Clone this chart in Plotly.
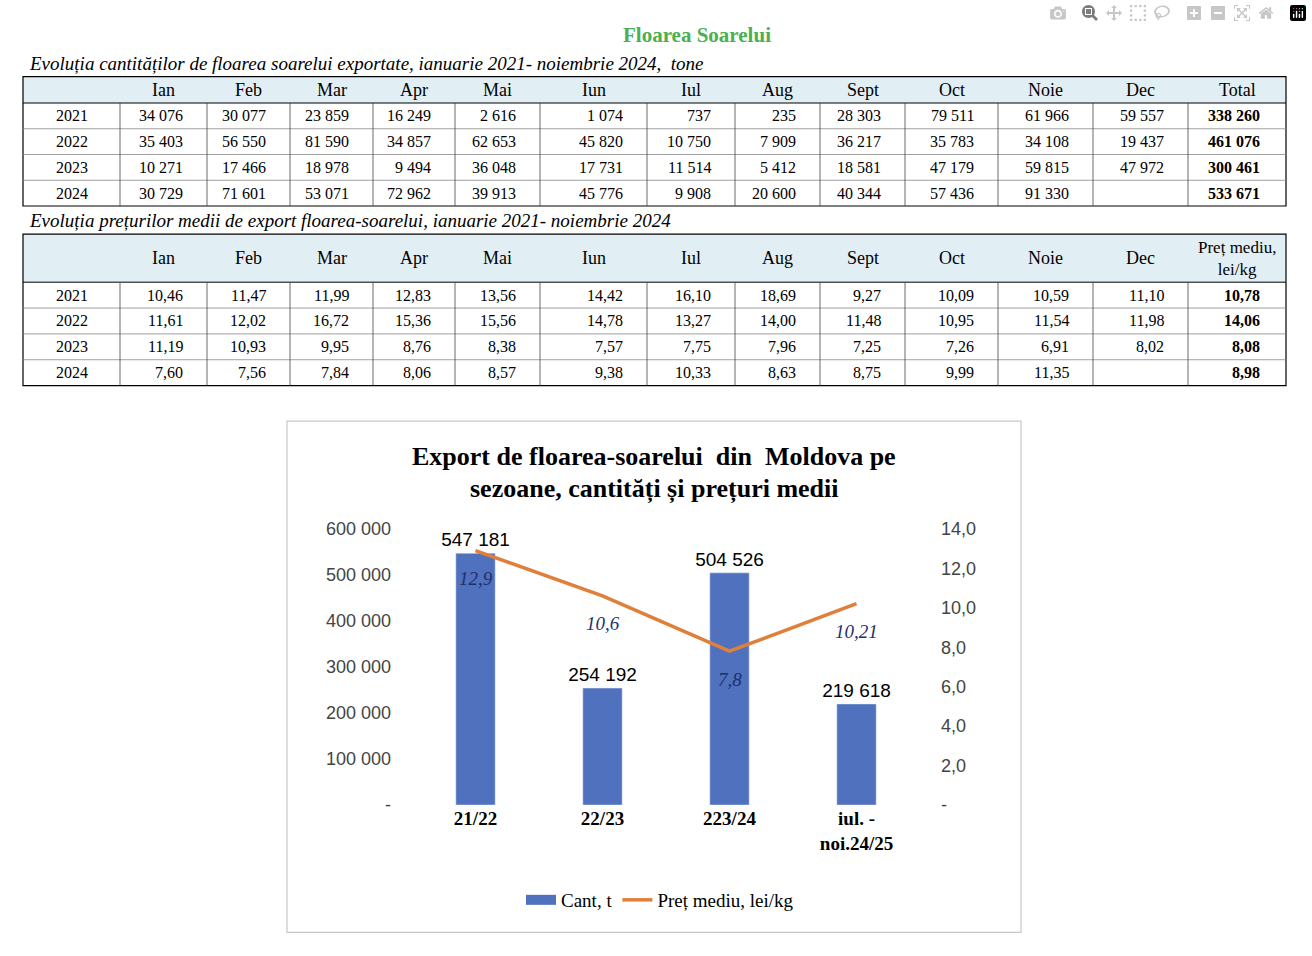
import plotly.graph_objects as go

W, H = 1312, 956
months = ["Ian","Feb","Mar","Apr","Mai","Iun","Iul","Aug","Sept","Oct","Noie","Dec"]
years = ["2021","2022","2023","2024"]
qty = [
    [34076,30077,23859,16249,2616,1074,737,235,28303,79511,61966,59557],
    [35403,56550,81590,34857,62653,45820,10750,7909,36217,35783,34108,19437],
    [10271,17466,18978,9494,36048,17731,11514,5412,18581,47179,59815,47972],
    [30729,71601,53071,72962,39913,45776,9908,20600,40344,57436,91330,None],
]
qty_total = [338260,461076,300461,533671]
price = [
    [10.46,11.47,11.99,12.83,13.56,14.42,16.10,18.69,9.27,10.09,10.59,11.10],
    [11.61,12.02,16.72,15.36,15.56,14.78,13.27,14.00,11.48,10.95,11.54,11.98],
    [11.19,10.93,9.95,8.76,8.38,7.57,7.75,7.96,7.25,7.26,6.91,8.02],
    [7.60,7.56,7.84,8.06,8.57,9.38,10.33,8.63,8.75,9.99,11.35,None],
]
price_avg = [10.78,14.06,8.08,8.98]
seasons = ["21/22","22/23","223/24","iul. -<br>noi.24/25"]
season_qty = [547181,254192,504526,219618]
season_price = [12.9,10.6,7.8,10.21]
season_price_lbl = ["12,9","10,6","7,8","10,21"]

SERIF = "Liberation Serif"
SANS = "Liberation Sans"

def X(px): return px / W
def Y(py): return 1 - py / H

def fq(v): return "" if v is None else f"{v:,}".replace(",", " ")
def fp(v): return "" if v is None else f"{v:.2f}".replace(".", ",")

ann, shp = [], []
def txt(x, y, s, size=17, xa="center", bold=False, italic=False, color="black", family=SERIF):
    if bold: s = f"<b>{s}</b>"
    if italic: s = f"<i>{s}</i>"
    ann.append(dict(x=X(x), y=Y(y), xref="paper", yref="paper", text=s, showarrow=False,
                    xanchor=xa, yanchor="middle", font=dict(size=size, color=color, family=family)))
def line(x0, y0, x1, y1, color="black", w=1):
    shp.append(dict(type="line", xref="paper", yref="paper", x0=X(x0), y0=Y(y0), x1=X(x1), y1=Y(y1),
                    line=dict(color=color, width=w)))
def rect(x0, y0, x1, y1, fill=None, color="black", w=1):
    shp.append(dict(type="rect", xref="paper", yref="paper", x0=X(x0), y0=Y(y0), x1=X(x1), y1=Y(y1),
                    fillcolor=fill or "rgba(0,0,0,0)", line=dict(color=color, width=w), layer="below"))

cols = [23,120,207,290,373,455,540,647,735,820,905,998,1093,1188,1286]

txt(697, 26, "Floarea Soarelui", size=21, bold=True, color="#4caf50")

TITLES = {55: "Evoluția cantităților de floarea soarelui exportate, ianuarie 2021- noiembrie 2024,  tone",
          215: "Evoluția prețurilor medii de export floarea-soarelui, ianuarie 2021- noiembrie 2024"}

def table(title_y, top, head_bot, row_h, data, totals, fmt, head_last):
    txt(27, title_y, TITLES[title_y], size=19, xa="left", italic=True)
    bottom = head_bot + row_h * 4
    rect(cols[0], top, cols[-1], head_bot, fill="#e1eff5", color="rgba(0,0,0,0)")
    rect(cols[0], top, cols[-1], bottom, w=1.2)
    line(cols[0], head_bot, cols[-1], head_bot)
    for i in range(1, 4):
        line(cols[0], head_bot + row_h * i, cols[-1], head_bot + row_h * i, color="#888", w=0.8)
    for c in cols[1:-1]:
        line(c, head_bot, c, bottom, color="#444", w=0.8)
    hy = (top + head_bot) / 2
    for j, m in enumerate(months):
        txt((cols[j+1] + cols[j+2]) / 2, hy, m, size=18)
    txt((cols[-2] + cols[-1]) / 2, hy, head_last, size=17 if "<br>" in head_last else 18)
    for i, y in enumerate(years):
        cy = head_bot + row_h * (i + 0.5)
        txt(72, cy, y, size=16)
        for j, v in enumerate(data[i]):
            txt(cols[j+2] - 22, cy, fmt(v), size=16, xa="right")
        txt(cols[-1] - 24, cy, fmt(totals[i]), size=16, xa="right", bold=True)

table(55, 68, 95, 26.3, qty, qty_total, fq, "Total")
table(215, 229, 278, 26.4, price, price_avg, fp, "Preț mediu,<br>lei/kg")

rect(287, 420, 1021, 942, color="#c8c8c8", w=1.2)
txt(654, 456, "Export de floarea-soarelui  din  Moldova pe", size=26, bold=True)
txt(654, 489, "sezoane, cantități și prețuri medii", size=26, bold=True)

for s, v, l in zip(seasons, season_price, season_price_lbl):
    ann.append(dict(x=s, y=v, xref="x", yref="y2", text=f"<i>{l}</i>", showarrow=False,
                    yshift=-28, font=dict(family=SERIF, size=19, color="#1f2f6b")))

fig = go.Figure()
fig.add_trace(go.Bar(x=seasons, y=season_qty, name="Cant, t", marker_color="#4f71be", width=0.31,
                     text=[fq(v) for v in season_qty], textposition="outside", constraintext="none",
                     textfont=dict(family=SANS, size=19, color="black"), cliponaxis=False, showlegend=False))
fig.add_trace(go.Scatter(x=[None], y=[None], mode="lines", name="Cant, t",
                         line=dict(color="#4f71be", width=11)))
fig.add_trace(go.Scatter(x=seasons, y=season_price, name="Preț mediu, lei/kg", yaxis="y2", mode="lines",
                         line=dict(color="#e07f3a", width=3.5), cliponaxis=False))

fig.update_layout(
    width=W, height=H, margin=dict(l=0, r=0, t=0, b=0), plot_bgcolor="white", paper_bgcolor="white",
    showlegend=True, annotations=ann, shapes=shp, bargap=0.6,
    legend=dict(orientation="h", x=X(660), xanchor="center", y=Y(909), yanchor="middle",
                font=dict(family=SERIF, size=19, color="black")),
    xaxis=dict(domain=[X(412), X(920)], tickfont=dict(family=SERIF, size=19, color="black"),
               tickvals=seasons, ticktext=[f"<b>{s}</b>" for s in seasons], showline=False, ticks=""),
    yaxis=dict(domain=[Y(812), Y(530)], range=[0, 600000], tickvals=[0,100000,200000,300000,400000,500000,600000],
               ticktext=["-","100 000","200 000","300 000","400 000","500 000","600 000"],
               tickfont=dict(family=SANS, size=18, color="#444"), showgrid=False, zeroline=False, ticklabelstandoff=20),
    yaxis2=dict(overlaying="y", side="right", range=[0, 14], tickvals=[0,2,4,6,8,10,12,14],
                ticktext=["-","2,0","4,0","6,0","8,0","10,0","12,0","14,0"],
                tickfont=dict(family=SANS, size=18, color="#444"), showgrid=False, zeroline=False, ticklabelstandoff=20),
)
fig.write_html("out.html")
with open("out.html", encoding="utf-8") as f:
    html = f.read()
html = html.replace("<head>", "<head><style>html,body{margin:0;padding:0;overflow:hidden}</style>", 1)
with open("out.html", "w", encoding="utf-8") as f:
    f.write(html)
